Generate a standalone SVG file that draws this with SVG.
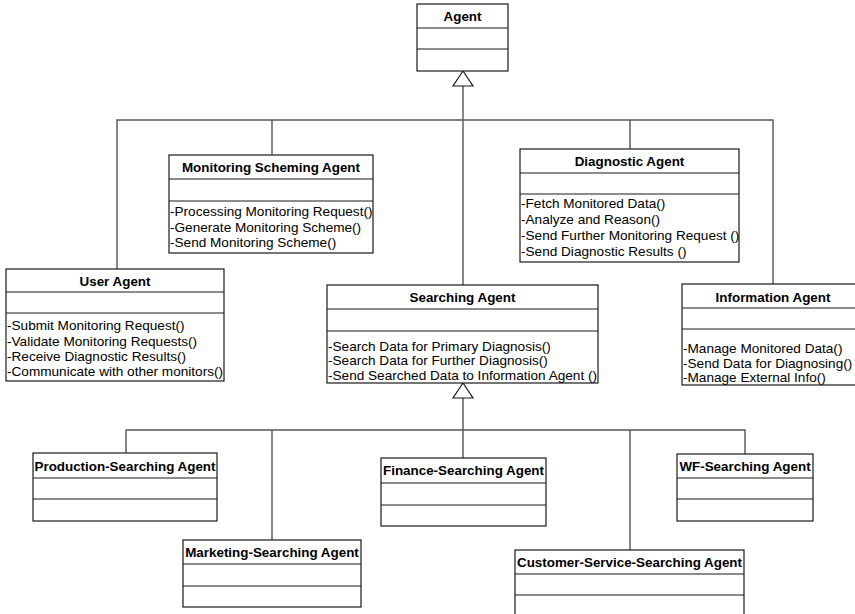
<svg xmlns="http://www.w3.org/2000/svg" width="855" height="614" viewBox="0 0 855 614">
<style>
.box{fill:#fff;stroke:#1a1a1a;stroke-width:1.2}
.sep{stroke:#1a1a1a;stroke-width:1.2}
.con{fill:none;stroke:#555;stroke-width:1.4}
.tri{fill:#fff;stroke:#1a1a1a;stroke-width:1.2}
.t{font-family:"Liberation Sans",Arial,sans-serif;font-size:13.4px;font-weight:bold;text-anchor:middle;fill:#000}
.m{font-family:"Liberation Sans",Arial,sans-serif;font-size:13.6px;fill:#000}
</style>
<rect width="855" height="614" fill="#fff"/>
<g id="connectors">
<path class="con" d="M463 86 V285"/>
<path class="con" d="M117 269 V120 H773 V284"/>
<path class="con" d="M272 120 V155"/>
<path class="con" d="M630 120 V149"/>
<polygon class="tri" points="463,71 453,86 473,86"/>
<path class="con" d="M463 398 V458"/>
<path class="con" d="M126 453 V430 H745 V454"/>
<path class="con" d="M272 430 V540"/>
<path class="con" d="M630 430 V550"/>
<polygon class="tri" points="463,383 453,398 473,398"/>
</g>
<g id="agent">
<rect class="box" x="417" y="4" width="91" height="67"/>
<line class="sep" x1="417" y1="28" x2="508" y2="28"/>
<line class="sep" x1="417" y1="49" x2="508" y2="49"/>
<text class="t" x="462.5" y="20.5">Agent</text>
</g>
<g id="monitoring">
<rect class="box" x="169" y="155" width="204" height="98"/>
<line class="sep" x1="169" y1="179" x2="373" y2="179"/>
<line class="sep" x1="169" y1="201" x2="373" y2="201"/>
<text class="t" x="271" y="172">Monitoring Scheming Agent</text>
<text class="m" x="170" y="215.5">-Processing Monitoring Request()</text>
<text class="m" x="170" y="231.5">-Generate Monitoring Scheme()</text>
<text class="m" x="170" y="246.5">-Send Monitoring Scheme()</text>
</g>
<g id="diagnostic">
<rect class="box" x="520" y="149" width="219" height="113"/>
<line class="sep" x1="520" y1="173" x2="739" y2="173"/>
<line class="sep" x1="520" y1="194" x2="739" y2="194"/>
<text class="t" x="629.5" y="165.5">Diagnostic Agent</text>
<text class="m" x="521" y="208">-Fetch Monitored Data()</text>
<text class="m" x="521" y="224">-Analyze and Reason()</text>
<text class="m" x="521" y="240">-Send Further Monitoring Request ()</text>
<text class="m" x="521" y="256">-Send Diagnostic Results ()</text>
</g>
<g id="user">
<rect class="box" x="6" y="269" width="218" height="112"/>
<line class="sep" x1="6" y1="292" x2="224" y2="292"/>
<line class="sep" x1="6" y1="313" x2="224" y2="313"/>
<text class="t" x="115" y="285.5">User Agent</text>
<text class="m" x="7" y="330">-Submit Monitoring Request()</text>
<text class="m" x="7" y="345.5">-Validate Monitoring Requests()</text>
<text class="m" x="7" y="360.5">-Receive Diagnostic Results()</text>
<text class="m" x="7" y="376">-Communicate with other monitors()</text>
</g>
<g id="searching">
<rect class="box" x="327" y="285" width="271" height="98"/>
<line class="sep" x1="327" y1="309" x2="598" y2="309"/>
<line class="sep" x1="327" y1="331" x2="598" y2="331"/>
<text class="t" x="462.5" y="302">Searching Agent</text>
<text class="m" x="328" y="351">-Search Data for Primary Diagnosis()</text>
<text class="m" x="328" y="365">-Search Data for Further Diagnosis()</text>
<text class="m" x="328" y="380">-Send Searched Data to Information Agent ()</text>
</g>
<g id="information">
<rect class="box" x="682" y="284" width="190" height="101"/>
<line class="sep" x1="682" y1="308" x2="872" y2="308"/>
<line class="sep" x1="682" y1="329" x2="872" y2="329"/>
<text class="t" x="773" y="301.5">Information Agent</text>
<text class="m" x="683" y="353">-Manage Monitored Data()</text>
<text class="m" x="683" y="367.5">-Send Data for Diagnosing()</text>
<text class="m" x="683" y="382">-Manage External Info()</text>
</g>
<g id="production">
<rect class="box" x="33" y="453" width="184" height="68"/>
<line class="sep" x1="33" y1="478" x2="217" y2="478"/>
<line class="sep" x1="33" y1="499" x2="217" y2="499"/>
<text class="t" x="125" y="470.5">Production-Searching Agent</text>
</g>
<g id="finance">
<rect class="box" x="381" y="458" width="165" height="68"/>
<line class="sep" x1="381" y1="483" x2="546" y2="483"/>
<line class="sep" x1="381" y1="505" x2="546" y2="505"/>
<text class="t" x="463.5" y="475">Finance-Searching Agent</text>
</g>
<g id="wf">
<rect class="box" x="677" y="454" width="136" height="67"/>
<line class="sep" x1="677" y1="478" x2="813" y2="478"/>
<line class="sep" x1="677" y1="499" x2="813" y2="499"/>
<text class="t" x="745" y="470.5">WF-Searching Agent</text>
</g>
<g id="marketing">
<rect class="box" x="183" y="540" width="178" height="67"/>
<line class="sep" x1="183" y1="564" x2="361" y2="564"/>
<line class="sep" x1="183" y1="586" x2="361" y2="586"/>
<text class="t" x="272" y="556.5">Marketing-Searching Agent</text>
</g>
<g id="customer">
<rect class="box" x="515" y="550" width="229" height="80"/>
<line class="sep" x1="515" y1="574" x2="744" y2="574"/>
<line class="sep" x1="515" y1="595" x2="744" y2="595"/>
<text class="t" x="629.5" y="566.5">Customer-Service-Searching Agent</text>
</g>
</svg>
